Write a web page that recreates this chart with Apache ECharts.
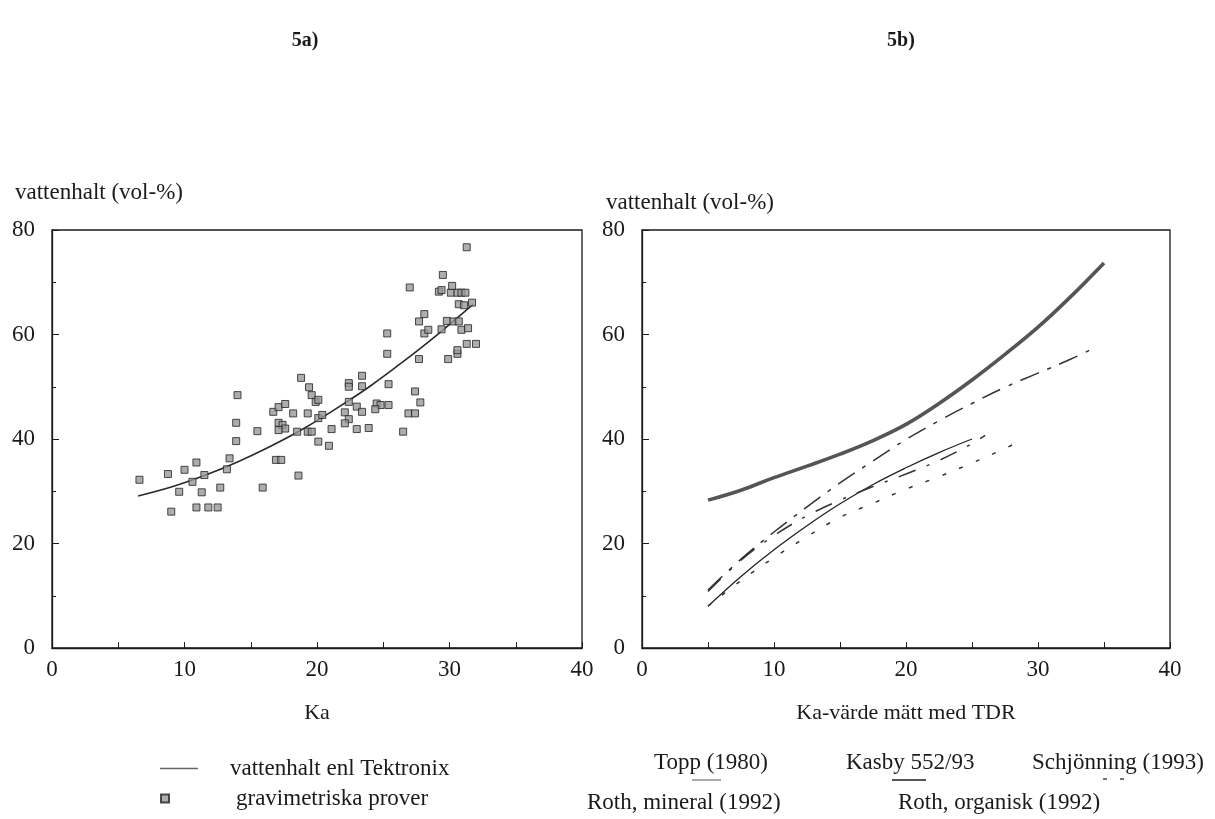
<!DOCTYPE html>
<html>
<head>
<meta charset="utf-8">
<script src="https://cdn.jsdelivr.net/npm/echarts@6/dist/echarts.min.js"></script>
<style>
html,body{margin:0;padding:0;background:#fff;}
#chart{width:1215px;height:819px;}
</style>
</head>
<body>
<div id="chart"></div>
<script>
// ---------- data ----------
// 5a) fitted curve "vattenhalt enl Tektronix"
const tektronixKa    = [6.5, 9, 11.5, 14, 16.5, 19, 21.5, 24, 26.5, 29, 31.8];
const tektronixTheta = [29.1, 30.8, 33.0, 35.6, 38.6, 42.0, 45.9, 50.1, 54.8, 59.8, 65.8];
// 5a) gravimetric samples [Ka, vol-%]
const gravimetricSamples = [
  [6.6,32.2],[8.75,33.3],[9.0,26.1],[9.6,29.9],[10.0,34.1],[10.6,31.8],[10.9,35.5],[10.9,26.9],
  [11.3,29.8],[11.5,33.1],[11.8,26.9],[12.5,26.9],[12.7,30.7],[13.2,34.2],[13.4,36.3],[13.9,39.6],
  [13.9,43.1],[14.0,48.4],[15.5,41.5],[15.9,30.7],[16.9,36.0],[17.3,36.0],[16.7,45.2],[17.1,46.1],
  [17.6,46.7],[17.1,43.1],[17.4,42.7],[17.6,42.0],[17.1,41.7],[18.2,44.9],[18.5,41.4],[18.6,33.0],
  [18.8,51.7],[19.3,44.9],[19.3,41.4],[19.6,41.4],[19.4,49.9],[19.6,48.4],[19.9,47.1],[20.1,47.5],
  [20.1,44.0],[20.1,39.5],[20.9,38.7],[20.4,44.6],[21.1,41.9],
  [22.4,50.7],[22.4,50.0],[23.4,52.1],[23.4,50.1],[25.4,50.5],[22.4,47.1],[22.1,45.1],[23.0,46.2],
  [23.4,45.2],[24.5,46.8],[24.8,46.5],[25.4,46.5],[24.4,45.7],[22.4,43.8],[22.1,43.0],[23.0,41.9],
  [23.9,42.1],[26.5,41.4],[26.9,44.9],[27.4,44.9],[27.8,47.0],[27.4,49.1],[25.3,56.3],[25.3,60.2],
  [27.7,55.3],[29.9,55.3],[30.6,56.3],[30.6,57.0],[31.3,58.2],[32.0,58.2],[28.1,60.2],[28.4,60.9],
  [29.4,61.0],[30.9,60.9],[31.4,61.2],[27.7,62.5],[28.1,63.9],[29.8,62.6],[30.3,62.5],[30.7,62.5],
  [30.7,65.8],[31.1,65.6],[31.7,66.1],[29.2,68.2],[29.4,68.5],[30.1,68.0],[30.6,68.0],[30.9,68.0],
  [31.2,68.0],[27.0,69.0],[30.2,69.3],[29.5,71.4],[31.3,76.7]
];
// 5b) calibration curves
const kasbyKa       = [5, 7.5, 10, 12.5, 15, 17.5, 20, 22.5, 25, 27.5, 30, 32.5, 35];
const kasbyTheta    = [28.3, 30.2, 32.6, 34.8, 37.1, 39.7, 42.8, 46.8, 51.3, 56.2, 61.4, 67.3, 73.7];
const toppKa        = [5, 7.5, 10, 12.5, 15, 17.5, 20, 22.5, 25];
const toppTheta     = [8.0, 13.7, 18.8, 23.4, 27.6, 31.3, 34.5, 37.4, 40.0];
const rothOrgKa     = [5, 7.5, 10, 12.5, 15, 17.5, 20, 22.5, 25, 27.5, 30, 32.5, 34];
const rothOrgTheta  = [11.1, 17.0, 22.2, 27.0, 31.6, 35.8, 39.9, 43.5, 46.8, 49.9, 52.6, 55.3, 57.1];
const rothMinKa     = [5, 7.5, 10, 12.5, 15, 17.5, 20, 22.5, 25, 26];
const rothMinTheta  = [10.8, 16.8, 21.5, 25.3, 28.3, 30.9, 33.3, 35.9, 39.1, 40.7];
const schjKa        = [5, 7.5, 10, 12.5, 15, 17.5, 20, 22.5, 25, 27.5, 28.8];
const schjTheta     = [8.0, 12.9, 17.3, 21.3, 25.0, 27.7, 30.4, 32.8, 35.4, 38.2, 39.8];

const xTicks = [0, 10, 20, 30, 40];
const yTicks = [0, 20, 40, 60, 80];

// ---------- helpers ----------
const zip = (xs, ys) => xs.map((x, i) => [x, ys[i]]);
const FONT = '"Liberation Serif", "DejaVu Serif", serif';
const INK = '#1a1a1a';

function xAxisCfg(gridIndex, name) {
  return {
    type: 'value', gridIndex, min: xTicks[0], max: xTicks[xTicks.length - 1], interval: 10,
    name, nameLocation: 'middle', nameGap: 54,
    nameTextStyle: { fontFamily: FONT, fontSize: 22, color: INK },
    axisLine: { show: true, lineStyle: { color: INK, width: 1.3 } },
    axisTick: { show: true, inside: true, length: 6, lineStyle: { color: INK } },
    minorTick: { show: true, splitNumber: 2, length: 6, lineStyle: { color: INK } },
    axisLabel: { fontFamily: FONT, fontSize: 23, color: INK, margin: 10 },
    splitLine: { show: false }
  };
}
function yAxisCfg(gridIndex) {
  return {
    type: 'value', gridIndex, min: yTicks[0], max: yTicks[yTicks.length - 1], interval: 20,
    axisLine: { show: true, lineStyle: { color: INK, width: 1.3 } },
    axisTick: { show: true, inside: true, length: 7, lineStyle: { color: INK } },
    minorTick: { show: true, splitNumber: 2, length: 4, lineStyle: { color: INK } },
    axisLabel: { fontFamily: FONT, fontSize: 23, color: INK, margin: 17 },
    splitLine: { show: false }
  };
}

const chart = echarts.init(document.getElementById('chart'), null, { renderer: 'canvas' });

const legendText = { fontFamily: FONT, fontSize: 23, color: INK };

const option = {
  backgroundColor: '#ffffff',
  animation: false,
  title: [
    { text: '5a)', left: 300, top: 26, textAlign: 'center',
      textStyle: { fontFamily: FONT, fontSize: 20, fontWeight: 'bold', color: INK } },
    { text: '5b)', left: 896, top: 26, textAlign: 'center',
      textStyle: { fontFamily: FONT, fontSize: 20, fontWeight: 'bold', color: INK } },
    { text: 'vattenhalt (vol-%)', left: 10, top: 176,
      textStyle: { fontFamily: FONT, fontSize: 23, fontWeight: 'normal', color: INK } },
    { text: 'vattenhalt (vol-%)', left: 601, top: 186,
      textStyle: { fontFamily: FONT, fontSize: 23, fontWeight: 'normal', color: INK } }
  ],
  grid: [
    { left: 52, top: 230, width: 530, height: 418, show: true, borderColor: INK, borderWidth: 1.3 },
    { left: 642, top: 230, width: 528, height: 418, show: true, borderColor: INK, borderWidth: 1.3 }
  ],
  xAxis: [ xAxisCfg(0, 'Ka'), xAxisCfg(1, 'Ka-värde mätt med TDR') ],
  yAxis: [ yAxisCfg(0), yAxisCfg(1) ],
  legend: [
    { data: [{ name: 'vattenhalt enl Tektronix', icon: 'rect' }], left: 155, top: 752,
      itemWidth: 38, itemHeight: 1.5, symbolKeepAspect: false,
      itemStyle: { color: '#666' },
      textStyle: Object.assign({ padding: [0, 0, 0, 27] }, legendText), selectedMode: false },
    { data: ['gravimetriska prover'], left: 155, top: 782, itemWidth: 8, itemHeight: 8,
      textStyle: Object.assign({ padding: [0, 0, 0, 62] }, legendText), selectedMode: false },
    { data: [{ name: 'Topp (1980)', icon: 'none' }], left: 644, top: 746, itemWidth: 0,
      textStyle: legendText, selectedMode: false },
    { data: [{ name: 'Kasby 552/93', icon: 'none' }], left: 836, top: 746, itemWidth: 0,
      textStyle: legendText, selectedMode: false },
    { data: [{ name: 'Schjönning (1993)', icon: 'none' }], left: 1022, top: 746, itemWidth: 0,
      textStyle: legendText, selectedMode: false },
    { data: [{ name: 'Roth, mineral (1992)', icon: 'none' }], left: 577, top: 786, itemWidth: 0,
      textStyle: legendText, selectedMode: false },
    { data: [{ name: 'Roth, organisk (1992)', icon: 'none' }], left: 888, top: 786, itemWidth: 0,
      textStyle: legendText, selectedMode: false }
  ],
  graphic: [
    // small line samples drawn under the 5b legend texts
    { type: 'line', shape: { x1: 692, y1: 780, x2: 721, y2: 780 }, style: { stroke: '#555', lineWidth: 1 } },
    { type: 'line', shape: { x1: 892, y1: 780, x2: 926, y2: 780 }, style: { stroke: '#555', lineWidth: 2 } },
    { type: 'line', shape: { x1: 1103, y1: 779, x2: 1107, y2: 779 }, style: { stroke: '#444', lineWidth: 1.5 } },
    { type: 'line', shape: { x1: 1120, y1: 779, x2: 1124, y2: 779 }, style: { stroke: '#444', lineWidth: 1.5 } }
  ],
  series: [
    { name: 'vattenhalt enl Tektronix', type: 'line', xAxisIndex: 0, yAxisIndex: 0,
      data: zip(tektronixKa, tektronixTheta), smooth: 0.4, showSymbol: false, symbol: 'none',
      lineStyle: { color: '#2a2a2a', width: 1.6 }, itemStyle: { color: '#2a2a2a' }, z: 3 },
    { name: 'gravimetriska prover', type: 'scatter', xAxisIndex: 0, yAxisIndex: 0,
      data: gravimetricSamples, symbol: 'rect', symbolSize: 7,
      itemStyle: { color: '#999', borderColor: '#222', borderWidth: 1 }, z: 4 },
    { name: 'Kasby 552/93', type: 'line', xAxisIndex: 1, yAxisIndex: 1,
      data: zip(kasbyKa, kasbyTheta), smooth: 0.4, showSymbol: false, symbol: 'none',
      lineStyle: { color: '#555', width: 3.6 }, itemStyle: { color: '#555' } },
    { name: 'Topp (1980)', type: 'line', xAxisIndex: 1, yAxisIndex: 1,
      data: zip(toppKa, toppTheta), smooth: 0.4, showSymbol: false, symbol: 'none',
      lineStyle: { color: '#222', width: 1.3 }, itemStyle: { color: '#222' } },
    { name: 'Roth, organisk (1992)', type: 'line', xAxisIndex: 1, yAxisIndex: 1,
      data: zip(rothOrgKa, rothOrgTheta), smooth: 0.4, showSymbol: false, symbol: 'none',
      lineStyle: { color: '#333', width: 1.5, type: [20, 9, 4, 9] }, itemStyle: { color: '#333' } },
    { name: 'Roth, mineral (1992)', type: 'line', xAxisIndex: 1, yAxisIndex: 1,
      data: zip(rothMinKa, rothMinTheta), smooth: 0.4, showSymbol: false, symbol: 'none',
      lineStyle: { color: '#333', width: 1.5, type: [18, 12, 3, 12] }, itemStyle: { color: '#333' } },
    { name: 'Schjönning (1993)', type: 'line', xAxisIndex: 1, yAxisIndex: 1,
      data: zip(schjKa, schjTheta), smooth: 0.4, showSymbol: false, symbol: 'none',
      lineStyle: { color: '#333', width: 1.5, type: [4, 14] }, itemStyle: { color: '#333' } }
  ]
};
chart.setOption(option);
</script>
</body>
</html>
